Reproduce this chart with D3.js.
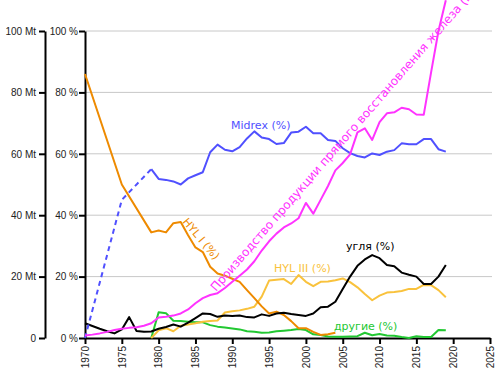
<!DOCTYPE html>
<html>
<head>
<meta charset="utf-8">
<script src="https://cdn.jsdelivr.net/npm/d3@7"></script>
<style>
    body { margin: 0; background: #fff; }
    svg { font-family: "DejaVu Sans", sans-serif; }
    .axis path, .axis line { stroke: #000; stroke-width: 2; }
    .axis text { font-size: 10px; fill: #222; }
    .grid line { stroke: #c8c8c8; stroke-width: 1; }
    .series { fill: none; stroke-width: 2; stroke-linejoin: round; }
    .label { font-size: 11px; }
</style>
</head>
<body>
<div id="chart"></div>
<script>
const years = [1970, 1971, 1972, 1973, 1974, 1975, 1976, 1977, 1978, 1979,
    1980, 1981, 1982, 1983, 1984, 1985, 1986, 1987, 1988, 1989,
    1990, 1991, 1992, 1993, 1994, 1995, 1996, 1997, 1998, 1999,
    2000, 2001, 2002, 2003, 2004, 2005, 2006, 2007, 2008, 2009,
    2010, 2011, 2012, 2013, 2014, 2015, 2016, 2017, 2018, 2019];

// DRI production, Mt
const production = [0.8, 1.1, 1.5, 2.0, 2.6, 3.0, 3.3, 3.5, 4.0, 4.8,
    6.7, 6.9, 7.3, 8.0, 9.3, 11.3, 13.0, 14.0, 14.6, 16.3,
    18.3, 20.3, 22.3, 25.0, 28.5, 31.5, 34.0, 36.0, 37.3, 39.0,
    44.0, 40.5, 45.0, 49.5, 54.6, 57.0, 59.8, 67.0, 68.3, 64.5,
    70.3, 73.2, 73.5, 75.0, 74.5, 72.8, 72.7, 86.5, 100.0, 110.0];

// shares, %  (null = no data point that year)
const midrex = [0, null, null, null, null, 45, null, null, null, 55,
    51.8, 51.5, 51.0, 50.0, 52.0, 53.0, 54.0, 60.5, 63.0, 61.3,
    60.8, 62.2, 65.0, 67.3, 65.3, 64.8, 63.2, 63.5, 66.9, 67.2,
    68.8, 66.7, 66.7, 64.5, 64.2, 61.8, 60.2, 59.3, 58.8, 60.1,
    59.6, 60.7, 61.2, 63.4, 63.1, 63.1, 64.8, 64.8, 61.5, 60.7];
const midrexEstimatedUntil = 1979;

const hyl1 = [86, null, null, null, null, 50, null, null, null, 34.4,
    35.0, 34.4, 37.4, 37.8, 33.5, 29.5, 28.0, 23.2, 21.0, 20.3,
    19.3, 18.3, 15.6, 13.0, 10.3, 8.0, 8.6, 7.5, 5.5, 3.2,
    3.2, 2.0, 1.0, 1.2, 1.7, null, null, null, null, null,
    null, null, null, null, null, null, null, null, null, null];

const hyl3 = [null, null, null, null, null, null, null, null, null, 0,
    2.5, 3.2, 2.2, 4.0, 4.4, 4.8, 5.3, 5.5, 5.7, 8.3,
    8.7, 9.0, 9.5, 10.2, 13.5, 18.7, 19.0, 19.2, 17.6, 20.5,
    18.3, 16.9, 18.3, 18.4, 18.8, 19.4, 18.2, 16.5, 14.3, 12.3,
    13.8, 14.8, 15.0, 15.3, 16.0, 16.0, 17.3, 17.2, 15.6, 13.3];

const coal = [4.8, 3.9, 3.0, 2.2, 1.5, 2.8, 6.8, 2.3, 2.0, 2.1,
    3.0, 3.6, 4.4, 3.7, 5.0, 6.5, 8.0, 7.8, 6.9, 7.3,
    7.2, 7.3, 6.8, 6.7, 7.7, 7.2, 8.0, 8.2, 7.8, 7.5,
    7.2, 8.0, 10.0, 10.2, 11.8, 16.0, 20.0, 23.5, 25.6, 27.0,
    26.0, 23.8, 23.4, 21.3, 20.6, 20.0, 17.6, 17.6, 20.0, 23.8];

const other = [null, null, null, null, null, null, null, null, null, 0,
    8.4, 8.1, 5.6, 5.5, 5.3, 5.1, 5.1, 4.2, 3.7, 3.4,
    3.1, 2.8, 2.2, 2.0, 1.7, 1.8, 2.2, 2.4, 2.6, 2.9,
    2.6, 1.2, 1.0, 0.5, 0.4, 0.4, 0.5, 0.6, 1.7, 0.9,
    1.3, 0.8, 0.7, 0.3, 0.0, 0.6, 0.3, 0.3, 2.6, 2.5];

const yTicks = [0, 20, 40, 60, 80, 100];
const xTicks = [1970, 1975, 1980, 1985, 1990, 1995, 2000, 2005, 2010, 2015, 2020, 2025];

const seriesLabels = {
    production: "Производство продукции прямого восстановления железа (Mt)",
    midrex: "Midrex (%)",
    hyl1: "HYL I (%)",
    hyl3: "HYL III (%)",
    coal: "угля (%)",
    other: "другие (%)"
};

class DriChart {
    constructor(_config) {
        this.config = {
            parentElement: _config.parentElement,
            containerWidth: 500,
            containerHeight: 375,
            margin: { top: 31, right: 10, bottom: 37, left: 85 },
            mtAxisX: 45
        };
        this.initVis();
    }

    initVis() {
        let vis = this;

        vis.config.width = vis.config.containerWidth - vis.config.margin.left - vis.config.margin.right;
        vis.config.height = vis.config.containerHeight - vis.config.margin.top - vis.config.margin.bottom;

        vis.svgRoot = d3.select(vis.config.parentElement)
            .append("svg")
            .attr("width", vis.config.containerWidth)
            .attr("height", vis.config.containerHeight);

        vis.svg = vis.svgRoot.append("g")
            .attr("transform", `translate(${vis.config.margin.left},${vis.config.margin.top})`);

        vis.xScale = d3.scaleLinear()
            .domain([1970, 2025])
            .range([0, vis.config.width]);

        vis.yScale = d3.scaleLinear()
            .domain([0, 100])
            .range([vis.config.height, 0]);

        // Mt axis uses the same mapping (100 Mt == 100 %)
        vis.yScaleMt = d3.scaleLinear()
            .domain([0, 100])
            .range([vis.config.height, 0]);

        vis.updateVis();
    }

    series(values) {
        return years.map((y, i) => ({ year: y, value: values[i] }))
            .filter(d => d.value != null);
    }

    updateVis() {
        let vis = this;
        const h = vis.config.height;

        // grid
        vis.svg.append("g")
            .attr("class", "grid")
            .selectAll("line")
            .data(yTicks.filter(d => d > 0))
            .join("line")
            .attr("x1", 0)
            .attr("x2", vis.config.width + 2)
            .attr("y1", d => vis.yScale(d))
            .attr("y2", d => vis.yScale(d));

        // Mt axis
        vis.svg.append("g")
            .attr("class", "axis")
            .attr("transform", `translate(${vis.config.mtAxisX - vis.config.margin.left},0)`)
            .call(d3.axisLeft(vis.yScaleMt)
                .tickValues(yTicks)
                .tickSize(6)
                .tickSizeOuter(0)
                .tickPadding(3)
                .tickFormat(d => d === 0 ? "0" : `${d} Mt`));

        // % axis
        vis.svg.append("g")
            .attr("class", "axis")
            .call(d3.axisLeft(vis.yScale)
                .tickValues(yTicks)
                .tickSize(6)
                .tickSizeOuter(0)
                .tickPadding(1)
                .tickFormat(d => `${d} %`));

        // x axis
        vis.svg.append("g")
            .attr("class", "axis")
            .attr("transform", `translate(0,${h})`)
            .call(d3.axisBottom(vis.xScale)
                .tickValues(xTicks)
                .tickSize(6)
                .tickSizeOuter(0)
                .tickFormat(d3.format("d")))
            .selectAll("text")
            .attr("transform", "rotate(-90)")
            .attr("y", 0)
            .attr("x", -8)
            .attr("dy", "0.33em")
            .style("text-anchor", "end");

        const line = d3.line()
            .x(d => vis.xScale(d.year))
            .y(d => vis.yScale(d.value));

        const lineMt = d3.line()
            .x(d => vis.xScale(d.year))
            .y(d => vis.yScaleMt(d.value));

        const midrexData = vis.series(midrex);

        const lines = [
            { key: "other", data: vis.series(other), color: "#22c832" },
            { key: "hyl3", data: vis.series(hyl3), color: "#f9c23c" },
            { key: "hyl1", data: vis.series(hyl1), color: "#ee8a00" },
            { key: "coal", data: vis.series(coal), color: "#000000" },
            { key: "midrexEst", data: midrexData.filter(d => d.year <= midrexEstimatedUntil), color: "#5050ff", dash: "5,4" },
            { key: "midrex", data: midrexData.filter(d => d.year >= midrexEstimatedUntil), color: "#5050ff" }
        ];

        vis.svg.selectAll(".series")
            .data(lines)
            .join("path")
            .attr("class", "series")
            .attr("stroke", d => d.color)
            .attr("stroke-dasharray", d => d.dash || null)
            .attr("d", d => line(d.data));

        vis.svg.append("path")
            .attr("class", "series production")
            .attr("stroke", "#ff33ff")
            .attr("d", lineMt(vis.series(production)));

        // labels
        const labels = [
            { key: "midrex", x: 146, y: 98, color: "#5050ff" },
            { key: "hyl3", x: 189, y: 241, color: "#f9c23c" },
            { key: "coal", x: 261, y: 219, color: "#000000" },
            { key: "other", x: 249, y: 299, color: "#22c832" }
        ];

        vis.svg.selectAll(".label")
            .data(labels)
            .join("text")
            .attr("class", "label")
            .attr("x", d => d.x)
            .attr("y", d => d.y)
            .attr("fill", d => d.color)
            .text(d => seriesLabels[d.key]);

        vis.svg.append("text")
            .attr("class", "label")
            .attr("fill", "#ee8a00")
            .attr("transform", "translate(97,191) rotate(50)")
            .text(seriesLabels.hyl1);

        vis.svg.append("text")
            .attr("class", "label")
            .attr("fill", "#ff33ff")
            .style("font-size", "12px")
            .attr("transform", "translate(131,261) rotate(-49)")
            .text(seriesLabels.production);
    }
}

new DriChart({ parentElement: "#chart" });
</script>
</body>
</html>
